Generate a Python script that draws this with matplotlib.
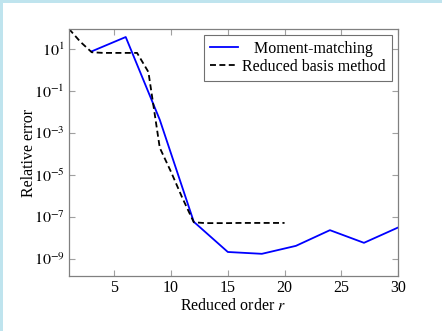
import matplotlib
matplotlib.use("Agg")
import matplotlib.pyplot as plt
from matplotlib.ticker import FixedLocator, NullLocator, FuncFormatter
import numpy as np

# Data
mm_r = [3, 6, 9, 12, 15, 18, 21, 24, 27, 30]
mm_err = [7.7, 37, 4.3e-3, 6e-8, 2.2e-9, 1.8e-9, 4.3e-9, 2.4e-8, 6e-9, 3.2e-8]

rb_r = [1, 2, 3, 4, 5, 6, 7, 8, 9, 10, 11, 12, 13, 14, 15, 16, 17, 18, 19, 20]
rb_err = [90, 22, 7.0, 6.5, 6.5, 6.5, 6.5, 0.8, 2e-4, 1.4e-5, 8e-7, 5.7e-8,
          5.2e-8, 5.2e-8, 5.2e-8, 5.3e-8, 5.3e-8, 5.3e-8, 5.3e-8, 5.3e-8]

xticks = [5, 10, 15, 20, 25, 30]
yticks_exp = [1, -1, -3, -5, -7, -9]

plt.rcParams['font.family'] = ['Liberation Serif', 'DejaVu Serif']
plt.rcParams['mathtext.fontset'] = 'stix'
plt.rcParams['font.size'] = 11.5

fig = plt.figure(figsize=(4.42, 3.31), dpi=100)
fig.patch.set_facecolor('white')
# light blue frame at top and left
border = '#bfe4ee'
fig.patches.append(plt.Rectangle((0, 1 - 3/331), 1, 3/331, transform=fig.transFigure,
                                 facecolor=border, edgecolor='none', zorder=0))
fig.patches.append(plt.Rectangle((0, 0), 3/442, 1, transform=fig.transFigure,
                                 facecolor=border, edgecolor='none', zorder=0))

ax = fig.add_axes([69/442, 1 - 276/331, (398 - 69)/442, (276 - 29)/331])

ax.plot(mm_r, mm_err, color='#0000ff', lw=1.3, label='   Moment-matching')
ax.plot(rb_r, rb_err, color='black', lw=1.3, ls=(0, (3.3, 1.9)), label='Reduced basis method')

ax.set_yscale('log')
ax.set_xlim(1, 30)
ax.set_ylim(10**-9.8, 10**1.95)

ax.xaxis.set_major_locator(FixedLocator(xticks))
ax.yaxis.set_major_locator(FixedLocator([10.0**e for e in yticks_exp]))
ax.yaxis.set_minor_locator(NullLocator())
ax.yaxis.set_major_formatter(FuncFormatter(lambda v, p: r'$10^{%d}$' % round(np.log10(v))))

ax.tick_params(direction='in', which='both', top=True, right=True, color='#a0a0a0',
               length=4, width=0.8, labelsize=11.5, pad=3)
for s in ax.spines.values():
    s.set_color('#808080')
    s.set_linewidth(0.9)

ax.set_xlabel(r'Reduced order $r$', labelpad=1)
ax.set_ylabel('Relative error', labelpad=-2)

leg = ax.legend(loc='upper right', fancybox=False, edgecolor='#707070', framealpha=1,
                borderaxespad=0.35, handlelength=1.75, handletextpad=0.25,
                borderpad=0.4, labelspacing=0.12, fontsize=11.5)
leg.get_frame().set_linewidth(0.8)

fig.savefig('out.png', dpi=100)
